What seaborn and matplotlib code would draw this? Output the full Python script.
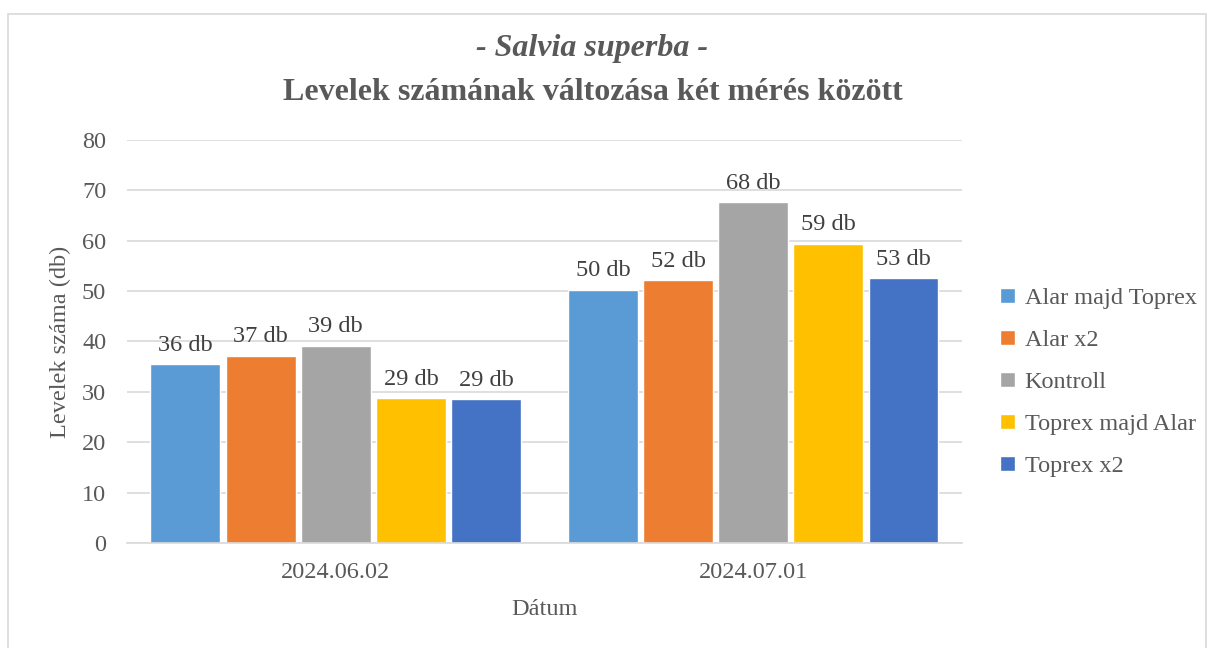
import pandas as pd
import numpy as np
import matplotlib.pyplot as plt
import seaborn as sns
from matplotlib.patches import Rectangle

datumok = ['2024.06.02', '2024.07.01']
kezelesek = ['Alar majd Toprex', 'Alar x2', 'Kontroll', 'Toprex majd Alar', 'Toprex x2']
ertek_0602 = [35.5, 37.2, 39.2, 28.8, 28.6]
ertek_0701 = [50.3, 52.2, 67.7, 59.4, 52.6]
szinek = ['#5b9bd5', '#ed7d31', '#a5a5a5', '#ffc000', '#4472c4']

data = pd.DataFrame({
    'Dátum': [datumok[0]] * 5 + [datumok[1]] * 5,
    'Kezelés': kezelesek * 2,
    'Levelek': ertek_0602 + ertek_0701,
})

sns.set_style('white')
plt.rcParams['font.family'] = ['Liberation Serif', 'DejaVu Serif']

fig = plt.figure(figsize=(12.14, 6.48), dpi=100)
ax = fig.add_axes([0.1046, 0.162, 0.6878, 0.622])

sns.barplot(data=data, x='Dátum', y='Levelek', hue='Kezelés', palette=szinek,
            width=0.9, gap=0.07, ax=ax, legend=True, saturation=1)

for c in ax.containers:
    ax.bar_label(c, labels=[f'{round(v)} db' for v in c.datavalues],
                 padding=6, fontsize=17.5, color='#404040')

ax.set_ylim(0, 80)
ax.set_yticks(range(0, 81, 10))
ax.yaxis.grid(True, color='#d9d9d9', linewidth=1.2)
ax.set_axisbelow(True)
for s in ['top', 'right', 'left']:
    ax.spines[s].set_visible(False)
ax.spines['bottom'].set_color('#d9d9d9')
ax.spines['bottom'].set_linewidth(1.2)
ax.tick_params(axis='both', length=0, labelsize=17.5, labelcolor='#595959')
ax.tick_params(axis='x', pad=14)
ax.tick_params(axis='y', pad=15)
ax.set_xlabel('Dátum', fontsize=17.5, color='#595959', labelpad=11)
ax.set_ylabel('Levelek száma (db)', fontsize=17.5, color='#595959', labelpad=8)

handles, labels = ax.get_legend_handles_labels()
ax.get_legend().remove()
fig.legend(handles, labels, loc='center left', bbox_to_anchor=(0.806, 0.41),
           frameon=False, fontsize=17.5, labelcolor='#595959', handlelength=0.6,
           handleheight=0.6, handletextpad=0.4, labelspacing=0.85)

fig.text(0.488, 0.925, '- Salvia superba -', ha='center', va='center',
         fontsize=23, fontweight='bold', fontstyle='italic', color='#595959')
fig.text(0.488, 0.857, 'Levelek számának változása két mérés között', ha='center',
         va='center', fontsize=23, fontweight='bold', color='#595959')

fig.patches.append(Rectangle((0.007, -0.01), 0.986, 0.988, transform=fig.transFigure,
                             fill=False, edgecolor='#d9d9d9', linewidth=1.2))

fig.savefig('out.png', dpi=100)
